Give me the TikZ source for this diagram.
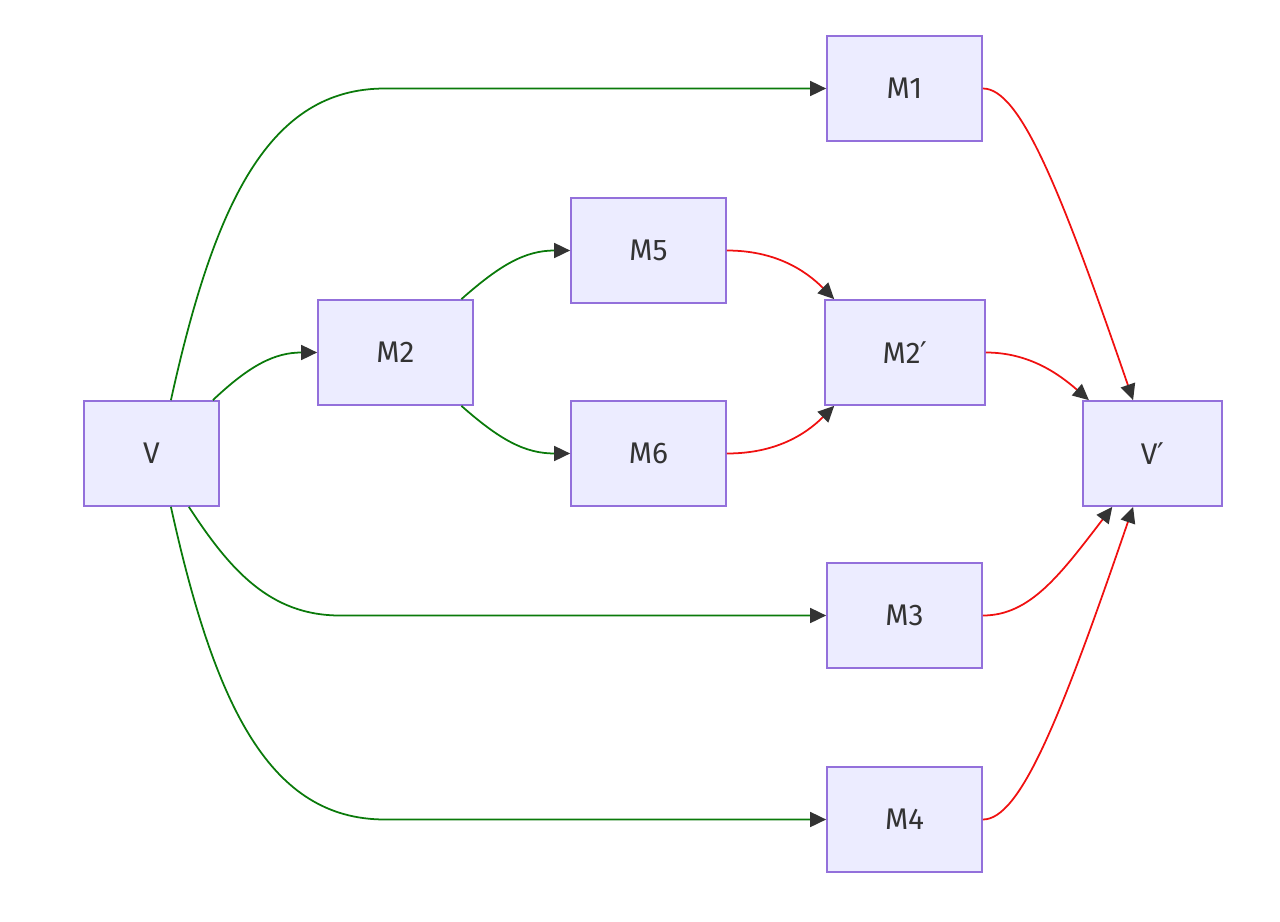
\documentclass[tikz,border=0pt]{standalone}
\usepackage{fontspec}
\setmainfont{Fira Sans}
\newfontfamily\primefont{DejaVu Sans}
\newcommand{\pr}{{\primefont ′}}
\usetikzlibrary{arrows.meta}
\definecolor{boxfill}{HTML}{ECECFF}
\definecolor{boxline}{HTML}{9370DB}
\definecolor{tipcol}{HTML}{333333}
\definecolor{fwd}{HTML}{0A7A0A}
\definecolor{back}{HTML}{F01010}
\begin{document}
\begin{tikzpicture}[x=0.02cm,y=-0.02cm,
    box/.style={draw=boxline,fill=boxfill,line width=1pt,minimum width=3.1cm,minimum height=2.1cm,font=\fontsize{17}{20}\selectfont,text=black!80},
    go/.style={draw=fwd,line width=1pt,-{Triangle[length=0.32cm,width=0.3cm,fill=tipcol,color=tipcol]}},
    ret/.style={draw=back,line width=1pt,-{Triangle[length=0.32cm,width=0.3cm,fill=tipcol,color=tipcol]}}]
        \useasboundingbox (0,0) rectangle (1280,922);
        \node[box,minimum width=2.7cm] (v) at (151.5,453.5) {V};
        \node[box] (m2) at (395.5,352.5) {M2};
        \node[box] (m5) at (648.5,250.5) {M5};
        \node[box] (m6) at (648.5,453.5) {M6};
        \node[box] (m1) at (904.5,88.5) {M1};
        \node[box,minimum width=3.2cm] (m2p) at (905,352.5) {M2\pr};
        \node[box] (m3) at (904.5,615.5) {M3};
        \node[box] (m4) at (904.5,819.5) {M4};
        \node[box,minimum width=2.78cm] (vp) at (1152.5,453.5) {V\pr};
        % out of V
        \draw[go] (v.70) .. controls (215,200) and (270,88.5) .. (385,88.5) -- (m1.west);
        \draw[go] (v.41) .. controls (250,365) and (275,352.5) .. (m2.west);
        \draw[go] (v.-55) .. controls (230,570) and (270,615.5) .. (340,615.5) -- (m3.west);
        \draw[go] (v.-70) .. controls (215,707) and (270,819.5) .. (385,819.5) -- (m4.west);
        \draw[go] (m2.39) .. controls (500,265) and (525,250.5) .. (m5.west);
        \draw[go] (m2.-39) .. controls (500,440) and (525,453.5) .. (m6.west);
        % back into V'
        \draw[ret] (m5.east) .. controls (775,250.5) and (805,270) .. (m2p.143);
        \draw[ret] (m6.east) .. controls (775,453.5) and (805,435) .. (m2p.-143);
        \draw[ret] (m1.east) .. controls (1020,88.5) and (1060,188) .. (vp.110);
        \draw[ret] (m2p.east) .. controls (1030,352.5) and (1060,375) .. (vp.140);
        \draw[ret] (m3.east) .. controls (1030,615.5) and (1060,575) .. (vp.-127);
        \draw[ret] (m4.east) .. controls (1020,819.5) and (1060,720) .. (vp.-110);
\end{tikzpicture}
\end{document}
